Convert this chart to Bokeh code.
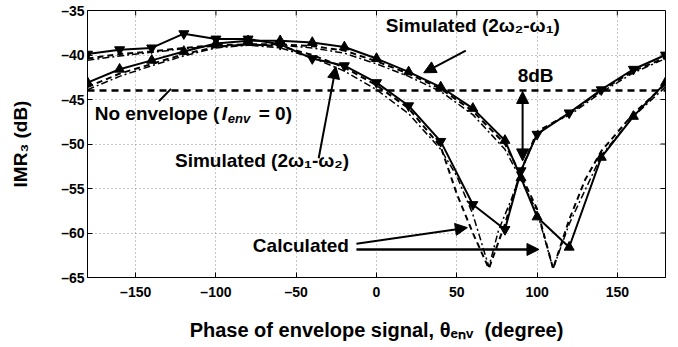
from bokeh.plotting import figure
from bokeh.models import Range1d, FixedTicker, Label, Arrow, NormalHead, Span
from bokeh.embed import file_html
from bokeh.resources import INLINE

# ---- data ----
theta = [-180, -160, -140, -120, -100, -80, -60, -40, -20, 0, 20, 40, 60, 80, 90, 100, 120, 140, 160, 180]
meas_2w1_w2 = [-39.9, -39.4, -39.2, -37.6, -38.2, -38.2, -38.8, -40.4, -41.2, -43.1, -45.7, -49.7,
               -56.8, -59.6, -53.0, -48.9, -46.5, -43.9, -41.6, -40.0]
meas_2w2_w1 = [-43.1, -41.6, -40.6, -39.6, -38.7, -38.4, -38.4, -38.6, -39.1, -40.4, -41.9, -43.6,
               -46.0, -49.6, -53.8, -58.2, -61.6, -51.5, -46.9, -43.1]

sim_a_theta = [-180, -160, -140, -120, -100, -80, -60, -40, -20, 0, 20, 40, 50, 60, 70, 80, 90, 100, 120, 140, 160, 180]
sim_a = [-40.4, -39.9, -39.6, -39.2, -38.9, -38.8, -39.0, -40.0, -41.4, -43.4, -46.0, -50.3,
         -55.6, -60.0, -64.0, -59.0, -53.0, -48.6, -46.6, -44.0, -41.8, -40.3]
calc_a_theta = [-180, -160, -140, -120, -100, -80, -60, -40, -20, 0, 20, 40, 50, 60, 70, 76, 84, 91, 100, 110, 120, 140, 160, 180]
calc_a = [-40.6, -40.1, -39.7, -39.3, -39.0, -38.9, -39.2, -40.3, -41.8, -43.9, -46.6, -50.6,
          -53.6, -57.9, -63.8, -59.7, -56.2, -52.6, -48.9, -47.6, -46.8, -44.2, -42.0, -40.4]

sim_b_theta = [-180, -160, -140, -120, -100, -80, -60, -40, -20, 0, 20, 40, 60, 80, 90, 100, 110, 120, 130, 140, 160, 180]
sim_b = [-43.6, -42.1, -41.0, -39.9, -39.1, -38.8, -38.8, -39.0, -39.5, -40.7, -42.1, -43.8,
         -46.3, -50.0, -53.5, -57.3, -64.0, -58.5, -54.0, -50.8, -46.6, -43.3]
calc_b_theta = [-180, -160, -140, -120, -100, -80, -60, -40, -20, 0, 20, 40, 60, 80, 90, 100, 110, 120, 140, 160, 180]
calc_b = [-43.9, -42.4, -41.2, -40.1, -39.2, -38.9, -38.9, -39.2, -39.8, -41.0, -42.4, -44.1,
          -46.7, -50.6, -54.0, -57.6, -64.0, -59.0, -51.3, -46.9, -43.6]

no_env_level = -44.0
x_ticks = [-150, -100, -50, 0, 50, 100, 150]
y_ticks = [-65, -60, -55, -50, -45, -40, -35]
x_lo, x_hi = -180, 180
y_lo, y_hi = -65, -35

SANS = "Liberation Sans"


def lab(v):
    return ("\u2013" + str(abs(v))) if v < 0 else str(v)


p = figure(width=678, height=347, x_range=Range1d(x_lo, x_hi), y_range=Range1d(y_lo, y_hi),
           output_backend="svg", toolbar_location=None,
           min_border_left=87, min_border_right=13, min_border_top=10, min_border_bottom=70)
p.background_fill_color = "white"
p.border_fill_color = "white"
p.outline_line_color = "black"
p.outline_line_width = 1

for ax in (p.xaxis[0], p.yaxis[0]):
    ax.major_tick_in = 5
    ax.major_tick_out = 0
    ax.minor_tick_line_color = None
    ax.axis_line_color = "black"
    ax.major_label_text_font = SANS
    ax.major_label_text_font_style = "bold"
    ax.major_label_text_font_size = "14px"
    ax.major_label_text_color = "black"
    ax.axis_label_text_font = SANS
    ax.axis_label_text_font_style = "bold"
    ax.axis_label_text_font_size = "19px"
    ax.axis_label_text_color = "black"

p.xaxis[0].ticker = FixedTicker(ticks=x_ticks)
p.yaxis[0].ticker = FixedTicker(ticks=y_ticks)
p.xaxis[0].major_label_overrides = {v: lab(v) for v in x_ticks}
p.yaxis[0].major_label_overrides = {v: lab(v) for v in y_ticks}
p.xaxis[0].major_label_standoff = 6
p.yaxis[0].major_label_standoff = 3

p.yaxis[0].axis_label = "IMR\u2083 (dB)"
p.yaxis[0].axis_label_standoff = 27
p.xaxis[0].axis_label = "Phase of envelope signal, \u03b8\u2091\u2099\u1d65\u00a0\u00a0(degree)"
p.xaxis[0].axis_label_text_font_size = "20px"
p.xaxis[0].axis_label_standoff = 16

p.xgrid.ticker = FixedTicker(ticks=x_ticks)
p.ygrid.ticker = FixedTicker(ticks=y_ticks)
p.grid.grid_line_color = "#8c8c8c"
p.grid.grid_line_dash = "1 3"
p.grid.grid_line_width = 1

# inward ticks on the right and top edges of the box (5 px long)
tick_dx = 5 * (x_hi - x_lo) / 578.0
tick_dy = 5 * (y_hi - y_lo) / 267.0
p.segment(x0=[x_hi] * len(y_ticks), y0=y_ticks, x1=[x_hi - tick_dx] * len(y_ticks), y1=y_ticks,
          line_color="black", line_width=1)
p.segment(x0=x_ticks, y0=[y_hi] * len(x_ticks), x1=x_ticks, y1=[y_hi - tick_dy] * len(x_ticks),
          line_color="black", line_width=1)

# no-envelope reference line
p.add_layout(Span(location=no_env_level, dimension="width", line_color="black",
                  line_width=2.5, line_dash="7 5"))

# simulated (dashed) and calculated (dash-dot)
p.line(sim_a_theta, sim_a, line_color="black", line_width=2, line_dash="6 4")
p.line(calc_a_theta, calc_a, line_color="black", line_width=1.5, line_dash="7 3 2 3")
p.line(sim_b_theta, sim_b, line_color="black", line_width=2, line_dash="6 4")
p.line(calc_b_theta, calc_b, line_color="black", line_width=1.5, line_dash="7 3 2 3")

# measured
p.line(theta, meas_2w1_w2, line_color="black", line_width=2)
p.scatter(theta, meas_2w1_w2, marker="inverted_triangle", size=10, fill_color="black", line_color="black")
p.line(theta, meas_2w2_w1, line_color="black", line_width=2)
p.scatter(theta, meas_2w2_w1, marker="triangle", size=10, fill_color="black", line_color="black")


def head():
    return NormalHead(size=12, fill_color="black", line_color="black")


def text(x, y, s, size="19px", style="bold", xo=0):
    p.add_layout(Label(x=x, y=y, text=s, x_offset=xo, text_font=SANS, text_font_style=style,
                       text_font_size=size, text_color="black", text_baseline="middle",
                       text_align="left"))


# arrows
p.add_layout(Arrow(end=None, x_start=-135.5, y_start=-45.2, x_end=-128, y_end=-43.8,
                   line_width=2, line_color="black"))
p.add_layout(Arrow(end=head(), x_start=-36, y_start=-51.6, x_end=-25.3, y_end=-41.3,
                   line_width=2, line_color="black"))
p.add_layout(Arrow(end=head(), x_start=55.6, y_start=-39.5, x_end=29.4, y_end=-42.0,
                   line_width=2, line_color="black"))
p.add_layout(Arrow(start=head(), end=head(), x_start=91, y_start=-44.1, x_end=91, y_end=-51.9,
                   line_width=2, line_color="black"))
p.add_layout(Arrow(end=head(), x_start=-12.5, y_start=-61.2, x_end=56.6, y_end=-59.4,
                   line_width=2, line_color="black"))
p.add_layout(Arrow(end=head(), x_start=-12.5, y_start=-61.85, x_end=101.2, y_end=-61.85,
                   line_width=2.5, line_color="black"))

# texts
text(-175.5, -46.6, "No envelope (", size="19px")
text(-175.5, -46.6, "I", size="19px", style="bold italic", xo=127)
text(-175.5, -47.1, "env", size="13px", style="bold italic", xo=133)
text(-175.5, -46.6, "= 0)", size="19px", xo=164)
text(-125.5, -51.85, "Simulated (2\u03c9\u2081-\u03c9\u2082)")
text(5.8, -36.7, "Simulated (2\u03c9\u2082-\u03c9\u2081)")
text(87.9, -42.3, "8dB")
text(-77, -61.4, "Calculated")

open("out.html", "w").write(file_html(p, INLINE))
